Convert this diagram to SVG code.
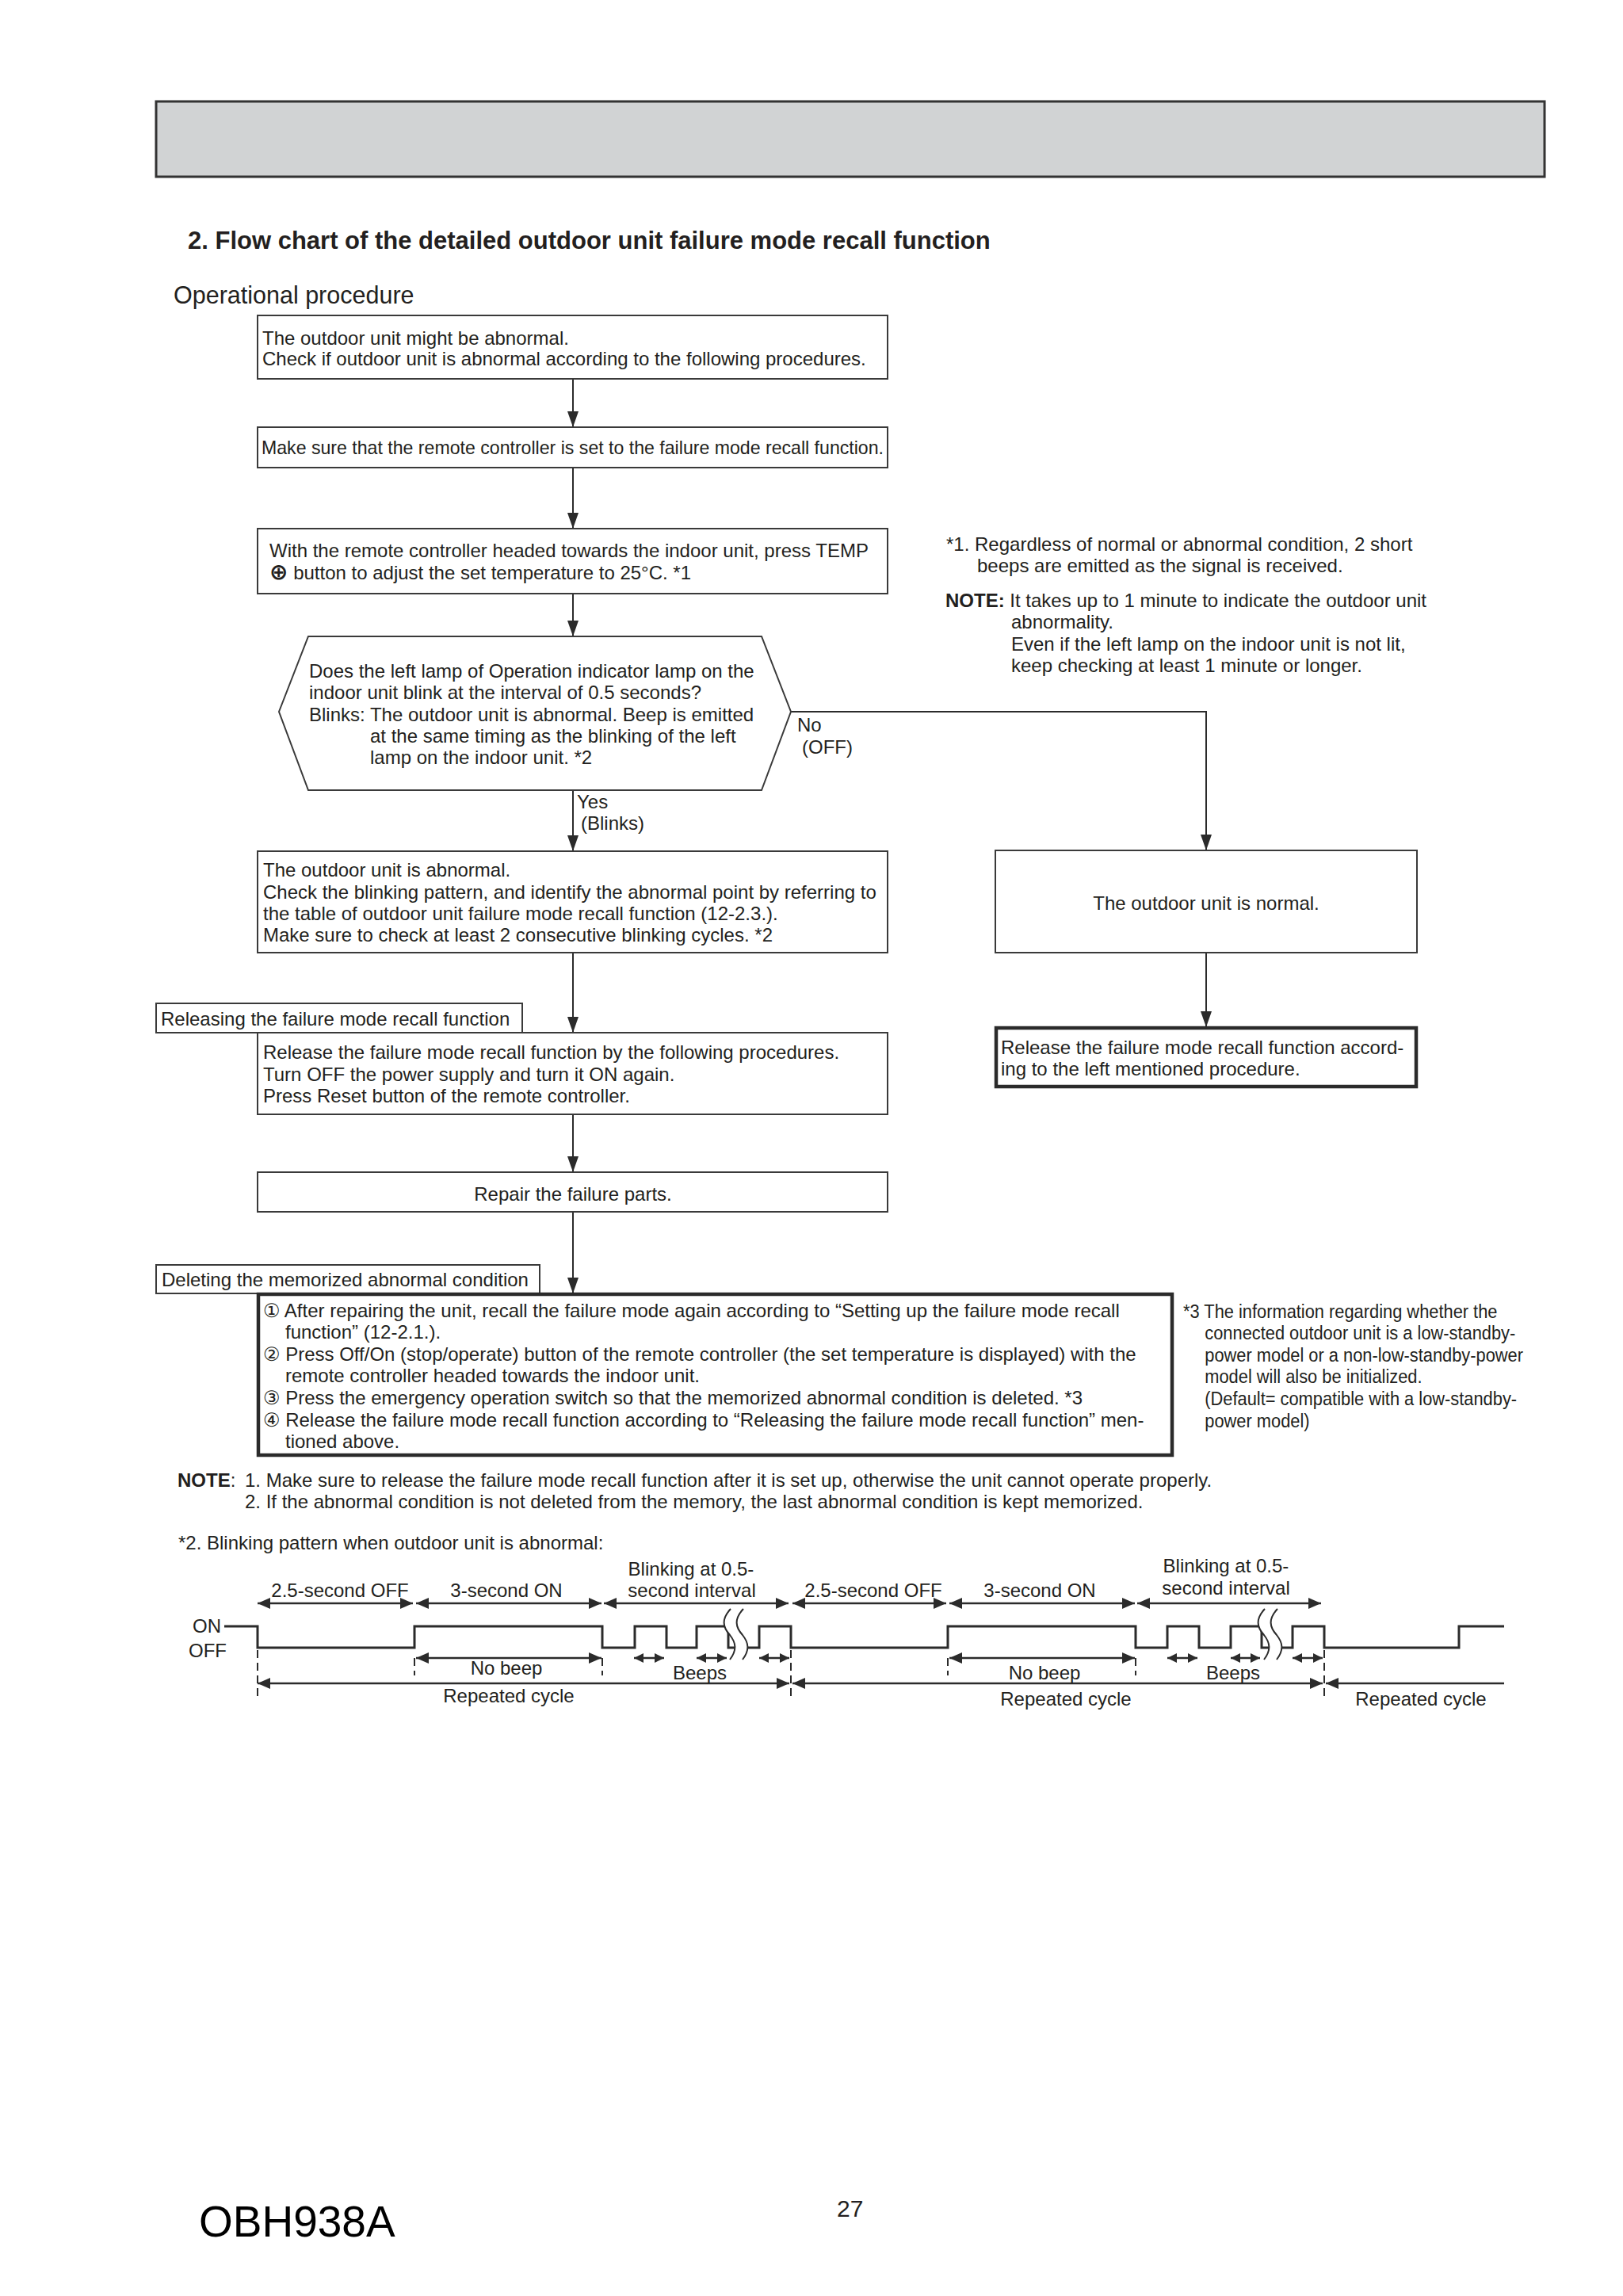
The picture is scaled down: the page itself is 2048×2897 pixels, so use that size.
<svg xmlns="http://www.w3.org/2000/svg" width="2048" height="2897" viewBox="0 0 2048 2897">
<defs>
<marker id="ah" viewBox="0 -7 20 14" refX="20" refY="0" markerWidth="20" markerHeight="14" markerUnits="userSpaceOnUse" orient="auto"><path d="M0,-7 L20,0 L0,7 z" fill="#2b2b2b"/></marker>
<marker id="dh" viewBox="0 -7 16 14" refX="16" refY="0" markerWidth="16" markerHeight="14" markerUnits="userSpaceOnUse" orient="auto-start-reverse"><path d="M0,-7 L16,0 L0,7 z" fill="#2b2b2b"/></marker>
<marker id="sh" viewBox="0 -6 12 12" refX="12" refY="0" markerWidth="12" markerHeight="12" markerUnits="userSpaceOnUse" orient="auto-start-reverse"><path d="M0,-6 L12,0 L0,6 z" fill="#2b2b2b"/></marker>
</defs>
<style>
text{font-family:"Liberation Sans",Arial,"DejaVu Sans","Noto Sans CJK JP",sans-serif;fill:#231f20;font-size:24px}
.box{fill:#fff;stroke:#3a3a3a;stroke-width:2}
.thick{fill:#fff;stroke:#2b2b2b;stroke-width:4.5}
.con{fill:none;stroke:#2b2b2b;stroke-width:2;marker-end:url(#ah)}
.line{fill:none;stroke:#2b2b2b;stroke-width:2}
.wave{fill:none;stroke:#2b2b2b;stroke-width:3}
.dim{fill:none;stroke:#2b2b2b;stroke-width:2.5;marker-start:url(#dh);marker-end:url(#dh)}
.sdim{fill:none;stroke:#2b2b2b;stroke-width:2.5;marker-start:url(#sh);marker-end:url(#sh)}
.dash{fill:none;stroke:#2b2b2b;stroke-width:2;stroke-dasharray:10 6}
.mid{text-anchor:middle}
.b{font-weight:bold}
</style>
<rect width="2048" height="2897" fill="#fff"/>

<g id="header"><rect x="197" y="128" width="1752" height="95" fill="#d1d3d4" stroke="#333" stroke-width="3"/></g>
<g id="title"><text x="237" y="314" class="b" style="font-size:31px">2. Flow chart of the detailed outdoor unit failure mode recall function</text>
<text x="219" y="383" style="font-size:30.5px">Operational procedure</text></g>

<g id="connectors">
<line class="con" x1="723" y1="478" x2="723" y2="539"/>
<line class="con" x1="723" y1="590" x2="723" y2="667"/>
<line class="con" x1="723" y1="749" x2="723" y2="803"/>
<line class="con" x1="723" y1="997" x2="723" y2="1074"/>
<polyline class="con" points="998,898 1522,898 1522,1073"/>
<line class="con" x1="723" y1="1202" x2="723" y2="1303"/>
<line class="con" x1="1522" y1="1202" x2="1522" y2="1296"/>
<line class="con" x1="723" y1="1406" x2="723" y2="1479"/>
<line class="con" x1="723" y1="1529" x2="723" y2="1632"/>
<text x="1006" y="923">No</text>
<text x="1012" y="951">(OFF)</text>
<text x="728" y="1020">Yes</text>
<text x="733" y="1047">(Blinks)</text>
</g>

<g id="n1"><rect class="box" x="325" y="398" width="795" height="80"/>
<text x="331" y="435">The outdoor unit might be abnormal.</text>
<text x="331" y="461">Check if outdoor unit is abnormal according to the following procedures.</text></g>

<g id="n2"><rect class="box" x="325" y="539" width="795" height="51"/>
<text x="330" y="573" textLength="785" lengthAdjust="spacingAndGlyphs">Make sure that the remote controller is set to the failure mode recall function.</text></g>

<g id="n3"><rect class="box" x="325" y="667" width="795" height="82"/>
<text x="340" y="703">With the remote controller headed towards the indoor unit, press TEMP</text>
<text x="340" y="731"><tspan style="font-family:'DejaVu Sans',sans-serif;font-weight:bold;font-size:28px">⊕</tspan> button to adjust the set temperature to 25°C. *1</text></g>

<g id="n4"><polygon class="box" points="352,898 389,803 961,803 998,898 961,997 389,997"/>
<text x="390" y="855">Does the left lamp of Operation indicator lamp on the</text>
<text x="390" y="882">indoor unit blink at the interval of 0.5 seconds?</text>
<text x="390" y="910">Blinks: The outdoor unit is abnormal. Beep is emitted</text>
<text x="467" y="937">at the same timing as the blinking of the left</text>
<text x="467" y="964">lamp on the indoor unit. *2</text></g>

<g id="note1">
<text x="1194" y="695">*1. Regardless of normal or abnormal condition, 2 short</text>
<text x="1233" y="722">beeps are emitted as the signal is received.</text>
<text x="1193" y="766"><tspan class="b">NOTE:</tspan> It takes up to 1 minute to indicate the outdoor unit</text>
<text x="1276" y="793">abnormality.</text>
<text x="1276" y="821">Even if the left lamp on the indoor unit is not lit,</text>
<text x="1276" y="848">keep checking at least 1 minute or longer.</text>
</g>

<g id="n5"><rect class="box" x="325" y="1074" width="795" height="128"/>
<text x="332" y="1106">The outdoor unit is abnormal.</text>
<text x="332" y="1134">Check the blinking pattern, and identify the abnormal point by referring to</text>
<text x="332" y="1161">the table of outdoor unit failure mode recall function (12-2.3.).</text>
<text x="332" y="1188">Make sure to check at least 2 consecutive blinking cycles. *2</text></g>

<g id="n6"><rect class="box" x="1256" y="1073" width="532" height="129"/>
<text x="1522" y="1148" class="mid">The outdoor unit is normal.</text></g>

<g id="n7"><rect class="thick" x="1257" y="1297" width="530" height="74"/>
<text x="1263" y="1330">Release the failure mode recall function accord-</text>
<text x="1263" y="1357">ing to the left mentioned procedure.</text></g>

<g id="label1"><rect class="box" x="197" y="1266" width="462" height="37"/>
<text x="203" y="1294">Releasing the failure mode recall function</text></g>

<g id="n8"><rect class="box" x="325" y="1303" width="795" height="103"/>
<text x="332" y="1336">Release the failure mode recall function by the following procedures.</text>
<text x="332" y="1364">Turn OFF the power supply and turn it ON again.</text>
<text x="332" y="1391">Press Reset button of the remote controller.</text></g>

<g id="n9"><rect class="box" x="325" y="1479" width="795" height="50"/>
<text x="723" y="1515" class="mid">Repair the failure parts.</text></g>

<g id="label2"><rect class="box" x="197" y="1596" width="484" height="36"/>
<text x="204" y="1623">Deleting the memorized abnormal condition</text></g>

<g id="n10"><rect class="thick" x="326" y="1633" width="1153" height="203"/>
<text x="332" y="1662">① After repairing the unit, recall the failure mode again according to “Setting up the failure mode recall</text>
<text x="360" y="1689">function” (12-2.1.).</text>
<text x="332" y="1717">② Press Off/On (stop/operate) button of the remote controller (the set temperature is displayed) with the</text>
<text x="360" y="1744">remote controller headed towards the indoor unit.</text>
<text x="332" y="1772">③ Press the emergency operation switch so that the memorized abnormal condition is deleted. *3</text>
<text x="332" y="1800">④ Release the failure mode recall function according to “Releasing the failure mode recall function” men-</text>
<text x="360" y="1827">tioned above.</text></g>

<g id="note3" transform="translate(1493,0) scale(0.91,1)">
<text x="0" y="1663">*3 The information regarding whether the</text>
<text x="30" y="1690">connected outdoor unit is a low-standby-</text>
<text x="30" y="1718">power model or a non-low-standby-power</text>
<text x="30" y="1745">model will also be initialized.</text>
<text x="30" y="1773">(Default= compatible with a low-standby-</text>
<text x="30" y="1801">power model)</text>
</g>

<g id="notes">
<text x="224" y="1876"><tspan class="b">NOTE</tspan>:</text>
<text x="309" y="1876">1. Make sure to release the failure mode recall function after it is set up, otherwise the unit cannot operate properly.</text>
<text x="309" y="1903">2. If the abnormal condition is not deleted from the memory, the last abnormal condition is kept memorized.</text>
<text x="225" y="1955">*2. Blinking pattern when outdoor unit is abnormal:</text>
</g>

<g id="timing">
<text x="243" y="2060">ON</text>
<text x="238" y="2091">OFF</text>
<path class="wave" d="M283 2052 H325 V2079 H523 V2052 H760 V2079 H801 V2052 H841 V2079 H879 V2052 H919 V2079 H958 V2052 H998 V2079 H1196 V2052 H1433 V2079 H1473 V2052 H1513 V2079 H1553 V2052 H1592 V2079 H1631 V2052 H1671 V2079 H1841 V2052 H1898"/>
<path d="M922 2030 C910 2043 912 2053 921 2063 C929 2073 930 2082 921 2094 L937 2094 C946 2082 945 2073 937 2063 C928 2053 926 2043 938 2030 Z" fill="#fff"/>
<path class="line" d="M922 2030 C910 2043 912 2053 921 2063 C929 2073 930 2082 921 2094 M938 2030 C926 2043 928 2053 937 2063 C945 2073 946 2082 937 2094"/>
<path d="M1596 2030 C1584 2043 1586 2053 1595 2063 C1603 2073 1604 2082 1595 2094 L1611 2094 C1620 2082 1619 2073 1611 2063 C1602 2053 1600 2043 1612 2030 Z" fill="#fff"/>
<path class="line" d="M1596 2030 C1584 2043 1586 2053 1595 2063 C1603 2073 1604 2082 1595 2094 M1612 2030 C1600 2043 1602 2053 1611 2063 C1619 2073 1620 2082 1611 2094"/>

<line class="dim" x1="325" y1="2023" x2="521" y2="2023"/>
<line class="dim" x1="525" y1="2023" x2="759" y2="2023"/>
<line class="dim" x1="762" y1="2023" x2="995" y2="2023"/>
<line class="dim" x1="1000" y1="2023" x2="1194" y2="2023"/>
<line class="dim" x1="1198" y1="2023" x2="1432" y2="2023"/>
<line class="dim" x1="1435" y1="2023" x2="1667" y2="2023"/>

<line class="dim" x1="525" y1="2092" x2="759" y2="2092"/>
<line class="dim" x1="1198" y1="2092" x2="1432" y2="2092"/>
<line class="sdim" x1="800" y1="2092" x2="838" y2="2092"/>
<line class="sdim" x1="879" y1="2092" x2="917" y2="2092"/>
<line class="sdim" x1="958" y1="2092" x2="996" y2="2092"/>
<line class="sdim" x1="1473" y1="2092" x2="1511" y2="2092"/>
<line class="sdim" x1="1553" y1="2092" x2="1590" y2="2092"/>
<line class="sdim" x1="1631" y1="2092" x2="1669" y2="2092"/>

<line class="dim" x1="325" y1="2124" x2="996" y2="2124"/>
<line class="dim" x1="1000" y1="2124" x2="1669" y2="2124"/>
<line x1="1673" y1="2124" x2="1898" y2="2124" style="fill:none;stroke:#2b2b2b;stroke-width:2.5;marker-start:url(#dh)"/>

<line class="dash" x1="325" y1="2082" x2="325" y2="2142"/>
<line class="dash" x1="523" y1="2092" x2="523" y2="2114"/>
<line class="dash" x1="760" y1="2092" x2="760" y2="2114"/>
<line class="dash" x1="998" y1="2082" x2="998" y2="2142"/>
<line class="dash" x1="1196" y1="2092" x2="1196" y2="2114"/>
<line class="dash" x1="1433" y1="2092" x2="1433" y2="2114"/>
<line class="dash" x1="1671" y1="2082" x2="1671" y2="2142"/>

<text x="429" y="2015" class="mid">2.5-second OFF</text>
<text x="639" y="2015" class="mid">3-second ON</text>
<text x="872" y="1988" class="mid">Blinking at 0.5-</text>
<text x="873" y="2015" class="mid">second interval</text>
<text x="1102" y="2015" class="mid">2.5-second OFF</text>
<text x="1312" y="2015" class="mid">3-second ON</text>
<text x="1547" y="1984" class="mid">Blinking at 0.5-</text>
<text x="1547" y="2012" class="mid">second interval</text>
<text x="639" y="2113" class="mid">No beep</text>
<text x="1318" y="2119" class="mid">No beep</text>
<text x="883" y="2119" class="mid">Beeps</text>
<text x="1556" y="2119" class="mid">Beeps</text>
<text x="642" y="2148" class="mid">Repeated cycle</text>
<text x="1345" y="2152" class="mid">Repeated cycle</text>
<text x="1793" y="2152" class="mid">Repeated cycle</text>
</g>

<g id="footer">
<text x="251" y="2822" style="font-size:55px;fill:#000">OBH938A</text>
<text x="1056" y="2797" style="font-size:30px">27</text>
</g>
</svg>
